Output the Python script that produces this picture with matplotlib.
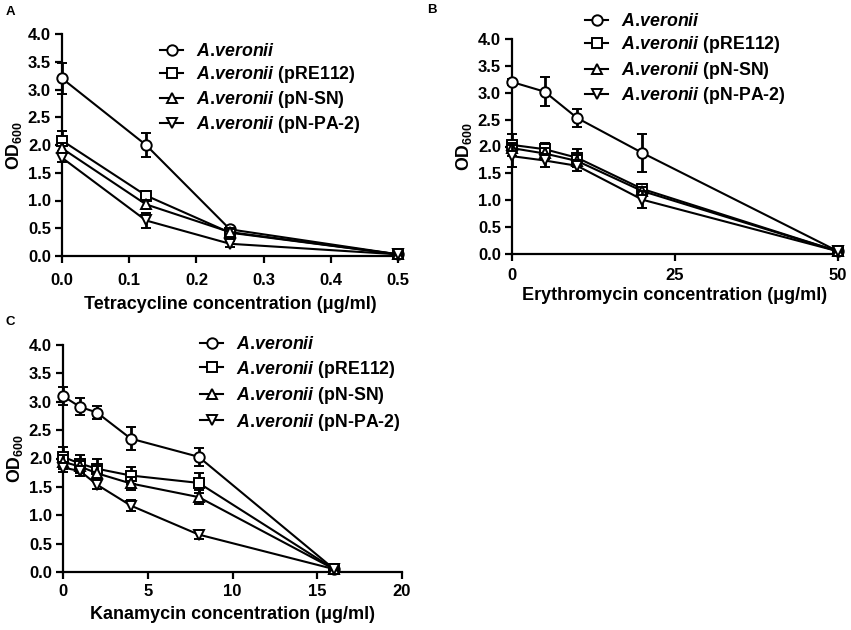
import matplotlib
matplotlib.use("Agg")
import matplotlib.pyplot as plt
import numpy as np

plt.rcParams['font.family'] = ['Liberation Sans', 'DejaVu Sans']
plt.rcParams['font.weight'] = 'bold'
plt.rcParams['mathtext.fontset'] = 'custom'
plt.rcParams['mathtext.rm'] = 'Liberation Sans:bold'
plt.rcParams['mathtext.bf'] = 'Liberation Sans:bold'
plt.rcParams['mathtext.it'] = 'Liberation Sans:italic:bold'
plt.rcParams['mathtext.bfit'] = 'Liberation Sans:italic:bold'

series_names = ["A.veronii", "A.veronii (pRE112)", "A.veronii (pN-SN)", "A.veronii (pN-PA-2)"]
suffixes = ["", " (pRE112)", " (pN-SN)", " (pN-PA-2)"]
markers = ["o", "s", "^", "v"]

# Panel A: Tetracycline
tet_x = [0.0, 0.125, 0.25, 0.5]
tet_y = [
    [3.20, 2.00, 0.48, 0.03],
    [2.08, 1.09, 0.42, 0.03],
    [1.94, 0.93, 0.43, 0.03],
    [1.77, 0.64, 0.22, 0.03],
]
tet_err = [
    [0.28, 0.21, 0.05, 0.02],
    [0.18, 0.08, 0.05, 0.02],
    [0.10, 0.08, 0.05, 0.02],
    [0.08, 0.14, 0.05, 0.02],
]

# Panel B: Erythromycin
ery_x = [0, 5, 10, 20, 50]
ery_y = [
    [3.20, 3.02, 2.53, 1.88, 0.05],
    [2.03, 1.95, 1.79, 1.21, 0.05],
    [1.97, 1.87, 1.73, 1.17, 0.05],
    [1.82, 1.74, 1.64, 1.01, 0.05],
]
ery_err = [
    [0.05, 0.27, 0.16, 0.35, 0.02],
    [0.20, 0.12, 0.16, 0.08, 0.02],
    [0.10, 0.10, 0.12, 0.08, 0.02],
    [0.20, 0.12, 0.10, 0.16, 0.02],
]

# Panel C: Kanamycin
kan_x = [0, 1, 2, 4, 8, 16]
kan_y = [
    [3.10, 2.91, 2.81, 2.35, 2.03, 0.05],
    [2.03, 1.91, 1.82, 1.70, 1.57, 0.05],
    [1.94, 1.86, 1.74, 1.56, 1.32, 0.05],
    [1.84, 1.78, 1.54, 1.17, 0.66, 0.05],
]
kan_err = [
    [0.16, 0.15, 0.12, 0.20, 0.16, 0.02],
    [0.18, 0.16, 0.18, 0.15, 0.18, 0.02],
    [0.12, 0.10, 0.12, 0.12, 0.12, 0.02],
    [0.08, 0.08, 0.08, 0.10, 0.08, 0.02],
]

W, H = 851, 630
fig = plt.figure(figsize=(W / 100, H / 100), dpi=100)

def px_axes(l, r, t, b):
    return fig.add_axes([l / W, 1 - b / H, (r - l) / W, (b - t) / H])

def draw(ax, x, ys, errs, xlim, xticks, xticklabels, xlabel, leg_xy, xpad, xlabpad, lspace):
    handles = []
    for i in range(4):
        h = ax.errorbar(x, ys[i], yerr=errs[i], color='black', lw=1.5,
                        marker=markers[i], ms=7.5, mfc='white', mec='black', mew=1.4,
                        elinewidth=2.0, capsize=3.5, capthick=2.0, clip_on=False, zorder=3 + i)
        for art in list(h.lines[1]) + list(h.lines[2]):
            art.set_clip_on(False)
        handles.append(h.lines[0])
    ax.set_xlim(*xlim)
    ax.set_ylim(0, 4.0)
    ax.set_xticks(xticks)
    ax.set_xticklabels(xticklabels)
    ax.set_yticks(np.arange(0, 4.01, 0.5))
    ax.set_yticklabels([f"{v:.1f}" for v in np.arange(0, 4.01, 0.5)])
    for s in ['top', 'right']:
        ax.spines[s].set_visible(False)
    for s in ['left', 'bottom']:
        ax.spines[s].set_linewidth(1.6)
    ax.tick_params(direction='out', length=5, width=1.6, labelsize=12, pad=3)
    ax.tick_params(axis='x', pad=xpad)
    for lab in ax.get_xticklabels() + ax.get_yticklabels():
        lab.set_fontweight('bold')
    ax.set_xlabel(xlabel, fontsize=13, fontweight='bold', labelpad=xlabpad)
    ax.set_ylabel(r'OD$_{\mathbf{600}}$', fontsize=12.8, fontweight='bold', labelpad=3)
    labels = [r'$\mathit{A.\!veronii}$' + s for s in suffixes]
    leg = fig.legend(handles, labels, loc='upper left',
                     bbox_to_anchor=(leg_xy[0] / W, 1 - leg_xy[1] / H),
                     frameon=False, borderpad=0, borderaxespad=0, handlelength=1.3,
                     handletextpad=0.7, labelspacing=lspace, numpoints=1,
                     prop={'size': 12.8, 'weight': 'bold'})
    return leg

axA = px_axes(62, 398, 34, 256)
draw(axA, tet_x, tet_y, tet_err, (0, 0.5), [0, 0.1, 0.2, 0.3, 0.4, 0.5],
     ["0.0", "0.1", "0.2", "0.3", "0.4", "0.5"],
     "Tetracycline concentration (μg/ml)", (160, 43), 7, 6, 0.23)

axB = px_axes(512, 838, 39, 254)
draw(axB, ery_x, ery_y, ery_err, (0, 50), [0, 25, 50], ["0", "25", "50"],
     "Erythromycin concentration (μg/ml)", (585, 13), 5, 3, 0.25)

axC = px_axes(63, 402, 345, 572)
draw(axC, kan_x, kan_y, kan_err, (0, 20), [0, 5, 10, 15, 20], ["0", "5", "10", "15", "20"],
     "Kanamycin concentration (μg/ml)", (200, 336), 4, 5, 0.31)

fig.text(10 / W, 1 - 12 / H, "A", fontsize=9.5, fontweight='bold', va='center', ha='center')
fig.text(432 / W, 1 - 10 / H, "B", fontsize=9.5, fontweight='bold', va='center', ha='center')
fig.text(10 / W, 1 - 322 / H, "C", fontsize=9.5, fontweight='bold', va='center', ha='center')

fig.savefig("out.png", dpi=100)
